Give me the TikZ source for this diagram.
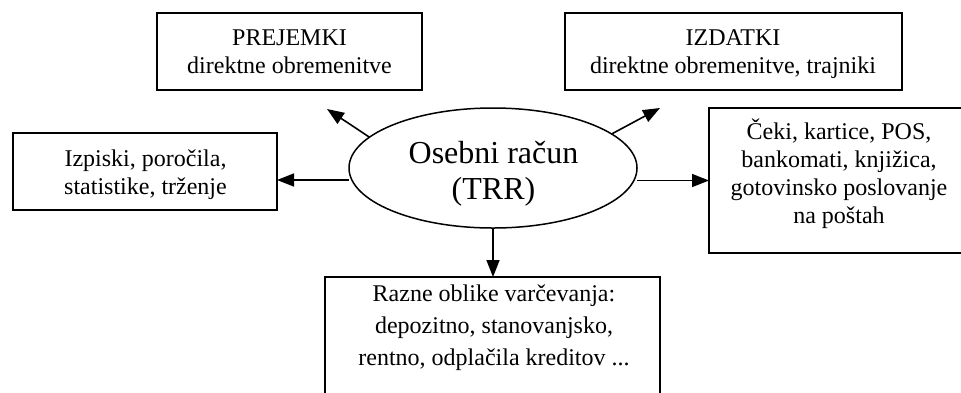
\documentclass[tikz,border=0pt]{standalone}
\usepackage{fontspec}
\setmainfont{Liberation Serif}
\usetikzlibrary{shapes.geometric,arrows.meta}
\newcommand\topstr{\rule{0pt}{11.5pt}}
\newcommand\topbig{\rule{0pt}{14pt}}
\tikzset{
  box/.style={draw, line width=0.95pt, inner sep=0pt, outer sep=0pt, rectangle},
  txt/.style={inner sep=0pt, outer sep=0pt, anchor=north, align=center, font=\fontsize{12}{14}\selectfont},
  arr/.style={line width=0.8pt, -{Triangle[length=8.5pt,width=6.5pt]}},
}
\begin{document}
\begin{tikzpicture}[x=0.5pt,y=-0.5pt]
\useasboundingbox (0,0) rectangle (961,392);
\clip (0,0) rectangle (961,392);
% boxes
\node[box, minimum width=132.5pt, minimum height=38.5pt] (prej) at (289.5,51.5) {};
\node[box, minimum width=168.5pt, minimum height=38.5pt] (izd) at (733.5,51.5) {};
\node[box, minimum width=132pt, minimum height=38.5pt] (izp) at (145,171.5) {};
\node[box, minimum width=131.5pt, minimum height=72.5pt] (ceki) at (840.5,180.5) {};
\node[box, minimum width=167.5pt, minimum height=61.5pt] (razne) at (492.5,338.5) {};
\node[draw, ellipse, line width=0.75pt, inner sep=0pt, outer sep=0pt, minimum width=144pt, minimum height=60pt] (ell) at (493,168) {};
% texts
\node[txt] (tprej) at (289.5,22) {\topstr PREJEMKI\\direktne obremenitve};
\node[txt] (tizd) at (733,22) {\topstr IZDATKI\\direktne obremenitve, trajniki};
\node[txt] (tizp) at (145.5,143) {\topstr Izpiski, poročila,\\statistike, trženje};
\node[txt] (tceki) at (839,116) {\topstr Čeki, kartice, POS,\\bankomati, knjižica,\\gotovinsko poslovanje\\na poštah};
\node[txt, font=\fontsize{12}{15.9}\selectfont] (trazne) at (494,278.5) {\topstr Razne oblike varčevanja:\\depozitno, stanovanjsko,\\rentno, odplačila kreditov ...};
\node[txt, font=\fontsize{16}{18}\selectfont] (tell) at (493.5,135) {\topbig Osebni račun\\(TRR)};
% connectors
\coordinate (pl) at (327,109);
\coordinate (pr) at (660,108);
\coordinate (lw) at ([yshift=-6pt]ell.west);
\draw[arr] (ell.south) -- (ell.south |- razne.north);
\draw[arr] (lw) -- (lw -| izp.east);
\draw[arr] (ell.east |- ceki.west) -- (ceki.west);
\draw[arr] (ell.166) -- (pl);
\draw[arr] (ell.16) -- (pr);
\end{tikzpicture}
\end{document}
